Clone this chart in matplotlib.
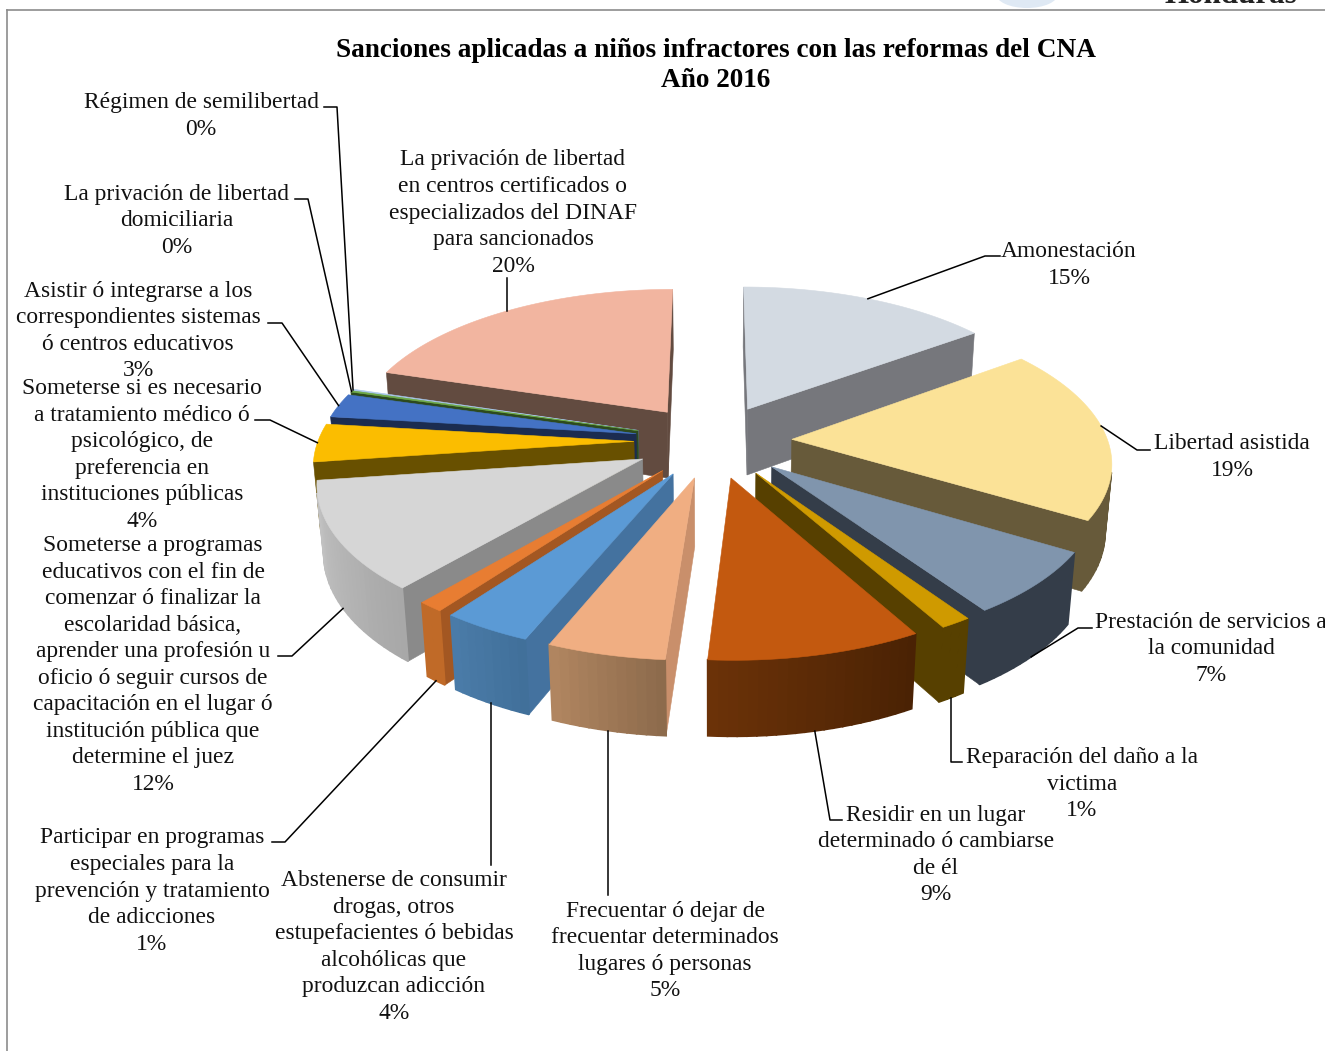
import numpy as np
import matplotlib
matplotlib.use("Agg")
import matplotlib.pyplot as plt
from matplotlib.patches import Ellipse

title = "Sanciones aplicadas a niños infractores con las reformas del CNA\nAño 2016"

names = [
    "Amonestación",
    "Libertad asistida",
    "Prestación de servicios a\nla comunidad",
    "Reparación del daño a la\nvictima",
    "Residir en un lugar\ndeterminado ó cambiarse\nde él",
    "Frecuentar ó dejar de\nfrecuentar determinados\nlugares ó personas",
    "Abstenerse de consumir\ndrogas, otros\nestupefacientes ó bebidas\nalcohólicas que\nproduzcan adicción",
    "Participar en programas\nespeciales para la\nprevención y tratamiento\nde adicciones",
    "Someterse a programas\neducativos con el fin de\ncomenzar ó finalizar la\nescolaridad básica,\naprender una profesión u\noficio ó seguir cursos de\ncapacitación en el lugar ó\ninstitución pública que\ndetermine el juez",
    "Someterse si es necesario\na tratamiento médico ó\npsicológico, de\npreferencia en\ninstituciones públicas",
    "Asistir ó integrarse a los\ncorrespondientes sistemas\nó centros educativos",
    "La privación de libertad\ndomiciliaria",
    "Régimen de semilibertad",
    "La privación de libertad\nen centros certificados o\nespecializados del DINAF\npara sancionados",
]
values = [14.9, 18.75, 6.85, 1.35, 9.25, 5.1, 3.9, 1.1, 11.6, 4.1, 2.6, 0.15, 0.15, 20.2]

top_colors = ["#d3dae2", "#fbe297", "#8095ad", "#cf9a00", "#c3590f", "#f0ae82", "#5b9ad5",
              "#e87d32", "#d6d6d6", "#fbbd00", "#4472c4", "#70ad47", "#a9c8e8", "#f2b5a0"]
side_colors = ["#76777c", "#675a3a", "#343d49", "#574000", "#5f2c07", "#c98f6b", "#44729f",
               "#a35722", "#8a8a8a", "#685000", "#1b2c50", "#2d4a1e", "#5b7a98", "#624b40"]
wall_left = ["#76777c", "#675a3a", "#343d49", "#574000", "#6b3208", "#b08560", "#4a7ba8",
             "#c06a28", "#c4c4c4", "#685000", "#1b2c50", "#2d4a1e", "#5b7a98", "#624b40"]
wall_right = ["#76777c", "#675a3a", "#343d49", "#574000", "#4a2204", "#8d6b4c", "#41709a",
              "#c06a28", "#a8a8a8", "#685000", "#1b2c50", "#2d4a1e", "#5b7a98", "#624b40"]

# label block centres and leader elbows, pixels
label_pos = [(1069, 265), (1232, 457), (1211, 649), (1082, 784), (936, 855), (665, 951), (394, 947),
             (152, 891), (153, 665), (142, 455), (138, 331), (177, 221), (201, 116), (513, 213)]
rim_depth = [0, 0, 1, 1, 1, 1, 1, 1, 1, 0, 0, 0, 0, 0]
rim_frac = [0.5, 0.46, 0.5, 0.5, 0.5, 0.5, 0.5, 0.5, 0.5, 0.5, 0.5, 0.5, 0.5, 0.5]
elbows = [
    [(985, 256), (1000, 256)],
    [(1137, 450), (1150, 450)],
    [(1078, 628), (1092, 628)],
    [(None, 762), (962, 762)],
    [(830, 820), (842, 820)],
    [(None, 895)],
    [(None, 865)],
    [(285, 842), (272, 842)],
    [(292, 656), (278, 656)],
    [(270, 420), (255, 420)],
    [(282, 323), (268, 323)],
    [(308, 199), (295, 199)],
    [(337, 107), (324, 107)],
    [(None, 278)],
]

cx, cy = 713, 441
rx, ry = 316, 146.7
persp, persp_z = 0.135, 0.017
depth = 68.3
explode = 0.25


def project(px, py, z):
    div = 1 - persp * py + persp_z * z
    return cx + rx * px / div, cy + (ry * py + depth * z) / div


def blend(c0, c1, t):
    a = np.array(matplotlib.colors.to_rgb(c0))
    b = np.array(matplotlib.colors.to_rgb(c1))
    return tuple(a + (b - a) * t)


def face(ax, p0, p1, color, off, lw=0.4):
    # quad hanging from the top edge p0-p1, dropped when it looks away
    pts = [project(p0[0] + off[0], p0[1] + off[1], 0), project(p1[0] + off[0], p1[1] + off[1], 0),
           project(p1[0] + off[0], p1[1] + off[1], 1), project(p0[0] + off[0], p0[1] + off[1], 1)]
    xs = np.array([p[0] for p in pts])
    ys = np.array([p[1] for p in pts])
    area = np.sum(xs * np.roll(ys, -1) - np.roll(xs, -1) * ys)
    if area < 0:
        ax.fill(xs, ys, color=color, lw=lw, zorder=ax.next_z)
        ax.next_z += 1


fig = plt.figure(figsize=(13.25, 10.51), dpi=100)
ax = fig.add_axes([0, 0, 1, 1])
ax.set_xlim(0, 1325)
ax.set_ylim(1051, 0)
ax.axis("off")
ax.next_z = 2

shares = np.array(values) / np.sum(values)
ends = np.cumsum(shares) * 2 * np.pi
starts = ends - shares * 2 * np.pi
mids = (starts + ends) / 2

# back slices first
order = np.argsort(-np.cos(mids))

for i in order:
    off = (explode * np.sin(mids[i]), -explode * np.cos(mids[i]))
    n = max(int((ends[i] - starts[i]) / np.radians(1.5)), 2)
    ang = np.linspace(starts[i], ends[i], n + 1)
    rim = np.column_stack([np.sin(ang), -np.cos(ang)])
    apex = (0, 0)

    face(ax, apex, rim[0], side_colors[i], off)
    face(ax, rim[-1], apex, side_colors[i], off)
    for k in range(n):
        # left end of the wall is the high angle on the front half
        t = 1 - k / max(n - 1, 1)
        face(ax, rim[k], rim[k + 1], blend(wall_left[i], wall_right[i], t), off, lw=1.2)

    top = [project(off[0], off[1], 0)] + [project(p[0] + off[0], p[1] + off[1], 0) for p in rim]
    ax.fill([p[0] for p in top], [p[1] for p in top], color=top_colors[i], lw=0.4, zorder=ax.next_z)
    ax.next_z += 1

serif = "Liberation Serif"
for i in range(len(names)):
    a = starts[i] + rim_frac[i] * (ends[i] - starts[i])
    off_x = explode * np.sin(mids[i]) + np.sin(a)
    off_y = -explode * np.cos(mids[i]) - np.cos(a)
    sx, sy = project(off_x, off_y, rim_depth[i])
    xs, ys = [sx], [sy]
    for ex, ey in elbows[i]:
        xs.append(sx if ex is None else ex)
        ys.append(ey)
    ax.plot(xs, ys, color="black", lw=1.1, zorder=200)
    ax.text(label_pos[i][0], label_pos[i][1], f"{names[i]}\n{round(values[i])}%", ha="center", va="center",
            family=serif, fontsize=16.9, linespacing=1.347, color="#111111", zorder=201)

ax.text(715.5, 65.5, title, ha="center", va="center", family=serif, fontsize=19.65, fontweight="bold",
        linespacing=1.27, color="black")

# page furniture around the pasted chart
ax.plot([7, 1325], [10, 10], color="#8c8c8c", lw=1.2)
ax.plot([7, 7], [10, 1051], color="#8c8c8c", lw=1.2)
ax.add_patch(Ellipse((1027, -6), 62, 28, color="#dfe9f4", lw=0))
ax.text(1231, 3, "Honduras", ha="center", va="baseline", family=serif, fontsize=22.3, fontweight="bold", color="#222222")

fig.savefig("out.png", dpi=100)
